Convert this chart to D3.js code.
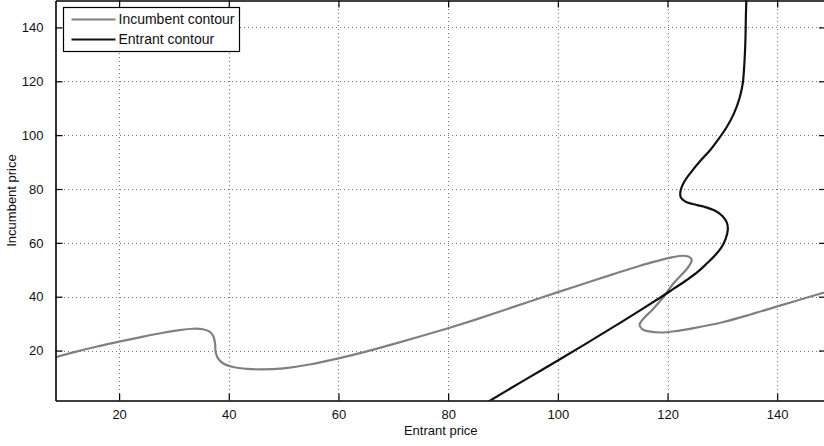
<!DOCTYPE html>
<html>
<head>
<meta charset="utf-8">
<script src="https://d3js.org/d3.v7.min.js"></script>
<style>
    body { margin: 0; background: #fff; }
    svg { display: block; font-family: "Liberation Sans", Arial, sans-serif; }
    .grid line { stroke: #777; stroke-dasharray: 1,3; shape-rendering: crispEdges; }
</style>
</head>
<body>
<svg id="chart" width="824" height="446"></svg>
<script>
// incumbent contour in order along the curve
let incumbentX = [8, 12, 16, 20, 24, 28, 31, 33.5, 35.3, 36.5, 37.2, 37.5, 37.6, 38, 39, 40.8, 43.5, 46, 50,
    55, 60, 65, 70, 75, 80, 85, 90, 95, 100, 105, 110, 115, 118, 120.5, 122.6, 123.8, 124.4, 124.2, 123.4,
    121.1, 119.3, 117.2, 115.5, 114.9, 115.4, 116.6, 118.7, 121.5, 124.8, 130, 135, 140, 145, 150];
let incumbentY = [17.3, 19.5, 21.5, 23.3, 25, 26.6, 27.6, 28.1, 27.9, 27, 25.2, 22.5, 19.5, 17.2, 15.2, 13.9, 13.2, 13, 13.4,
    14.9, 17.1, 19.6, 22.4, 25.3, 28.3, 31.5, 34.9, 38.3, 41.7, 45, 48.3, 51.5, 53.2, 54.5, 55.2, 54.9, 53.8, 52.3, 50,
    45, 40, 35.1, 31.6, 29.5, 28, 27.1, 26.7, 27.2, 28.3, 30.5, 33.3, 36.4, 39.4, 42.4];

// entrant contour
let entrantX = [86.5, 90, 95, 100, 105, 110, 115, 118.7, 121, 123.5, 125.5, 127.2, 128.6, 129.8, 130.6, 131, 130.8, 130,
    128.6, 126.7, 124.6, 123.2, 122.4, 122.4, 123, 124.2, 126, 127.8, 129.3, 130.8, 132.1, 133.1, 133.7, 134, 134.2, 134.3, 134.4];
let entrantY = [0, 4.3, 10.3, 16.3, 22.4, 28.6, 34.9, 39.7, 42.8, 46.2, 49.2, 52.4, 55.2, 58.2, 61.5, 65, 67.6, 70,
    72, 73.4, 74.4, 75.4, 77, 79.5, 82.5, 86, 90.5, 94.5, 98.5, 103, 108, 113.5, 119, 126, 135, 145, 152];

let xTicks = [20, 40, 60, 80, 100, 120, 140];
let yTicks = [20, 40, 60, 80, 100, 120, 140];

let seriesNames = ["Incumbent contour", "Entrant contour"];
let seriesColors = ["#808080", "#111111"];

let svg = d3.select("#chart"),
    plotLeft = 55.5, plotRight = 826, plotTop = 0.5, plotBottom = 400.5;

let x = d3.scaleLinear().domain([8.4, 148.9]).range([plotLeft, plotRight]),
    y = d3.scaleLinear().domain([1.45, 150]).range([plotBottom, plotTop]);

svg.append("defs").append("clipPath").attr("id", "clip")
    .append("rect")
    .attr("x", plotLeft).attr("y", plotTop)
    .attr("width", plotRight - plotLeft).attr("height", plotBottom - plotTop);

// dotted grid
let grid = svg.append("g").attr("class", "grid");
grid.selectAll(".vx").data(xTicks).enter().append("line")
    .attr("x1", function(d) { return Math.round(x(d)) + 0.5; })
    .attr("x2", function(d) { return Math.round(x(d)) + 0.5; })
    .attr("y1", plotTop).attr("y2", plotBottom);
grid.selectAll(".hy").data(yTicks).enter().append("line")
    .attr("y1", function(d) { return Math.round(y(d)) + 0.5; })
    .attr("y2", function(d) { return Math.round(y(d)) + 0.5; })
    .attr("x1", plotLeft).attr("x2", plotRight);

let line = d3.line()
    .curve(d3.curveCatmullRom.alpha(0.5))
    .x(function(d) { return x(d[0]); })
    .y(function(d) { return y(d[1]); });

let incumbent = d3.zip(incumbentX, incumbentY),
    entrant = d3.zip(entrantX, entrantY);

let curves = svg.append("g").attr("clip-path", "url(#clip)");
curves.append("path")
    .attr("d", line(incumbent))
    .attr("fill", "none")
    .attr("stroke", seriesColors[0])
    .attr("stroke-width", 2.2);
curves.append("path")
    .attr("d", line(entrant))
    .attr("fill", "none")
    .attr("stroke", seriesColors[1])
    .attr("stroke-width", 2.2);

// box axes with inward ticks, matlab style
let tickLen = 7;
svg.append("g")
    .attr("transform", "translate(0," + plotBottom + ")")
    .call(d3.axisBottom(x).tickValues(xTicks).tickSizeInner(-tickLen).tickSizeOuter(0).tickPadding(9));
svg.append("g")
    .attr("transform", "translate(0," + plotTop + ")")
    .call(d3.axisTop(x).tickValues(xTicks).tickSizeInner(-tickLen).tickSizeOuter(0).tickFormat(""));
svg.append("g")
    .attr("transform", "translate(" + plotLeft + ",0)")
    .call(d3.axisLeft(y).tickValues(yTicks).tickSizeInner(-tickLen).tickSizeOuter(0).tickPadding(12));
svg.append("g")
    .attr("transform", "translate(" + plotRight + ",0)")
    .call(d3.axisRight(y).tickValues(yTicks).tickSizeInner(-tickLen).tickSizeOuter(0).tickFormat(""));

svg.selectAll(".domain").attr("stroke", "#000").attr("stroke-width", 1.6);
svg.selectAll(".tick line").attr("stroke", "#000").attr("stroke-width", 1.2);
svg.selectAll(".tick text").attr("fill", "#111").style("font-size", "13px")
    .style("font-family", "'Liberation Sans', Arial, sans-serif");

svg.append("text")
    .attr("x", (plotLeft + plotRight) / 2)
    .attr("y", 435)
    .attr("text-anchor", "middle")
    .style("font-size", "13px")
    .attr("fill", "#111")
    .text("Entrant price");

svg.append("text")
    .attr("transform", "translate(16," + ((plotTop + plotBottom) / 2) + ") rotate(-90)")
    .attr("text-anchor", "middle")
    .style("font-size", "13px")
    .attr("fill", "#111")
    .text("Incumbent price");

// legend
let legend = svg.append("g").attr("transform", "translate(63.5,7.5)");
legend.append("rect")
    .attr("width", 176).attr("height", 44)
    .attr("fill", "#fff").attr("stroke", "#000").attr("stroke-width", 1.2);
let items = legend.selectAll(".item").data(seriesNames).enter().append("g")
    .attr("transform", function(d, i) { return "translate(0," + (12 + i * 20) + ")"; });
items.append("line")
    .attr("x1", 8).attr("x2", 52)
    .attr("stroke", function(d, i) { return seriesColors[i]; })
    .attr("stroke-width", 2.2);
items.append("text")
    .attr("x", 55).attr("dy", "0.35em")
    .style("font-size", "14px")
    .attr("fill", "#111")
    .text(function(d) { return d; });
</script>
</body>
</html>
